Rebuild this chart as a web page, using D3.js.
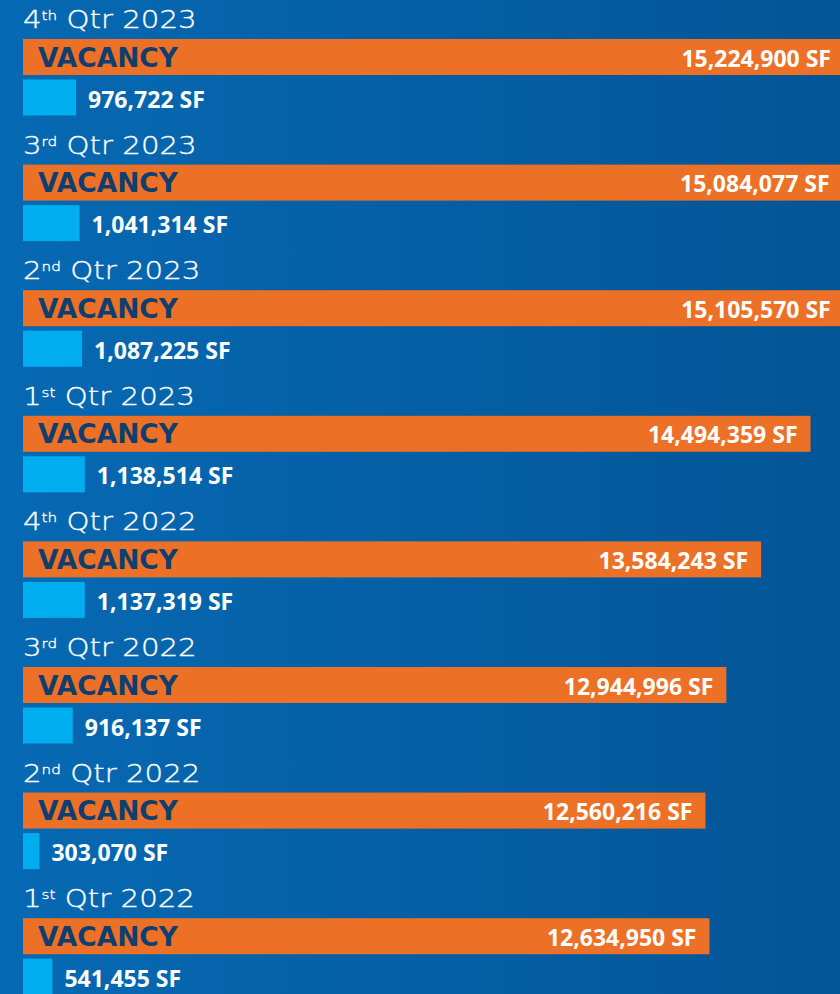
<!DOCTYPE html>
<html>
<head>
<meta charset="utf-8">
<script src="https://cdn.jsdelivr.net/npm/d3@7"></script>
<style>
  html, body { margin: 0; padding: 0; background: #0660aa; }
  svg { display: block; }
</style>
</head>
<body>
<svg id="chart" width="840" height="994"></svg>
<script>
// ---- data ----
const quarterNum   = ["4", "3", "2", "1", "4", "3", "2", "1"];
const quarterSuf   = ["th", "rd", "nd", "st", "th", "rd", "nd", "st"];
const quarterYear  = ["2023", "2023", "2023", "2023", "2022", "2022", "2022", "2022"];
const vacancySF    = [15224900, 15084077, 15105570, 14494359, 13584243, 12944996, 12560216, 12634950];
const subleaseSF   = [976722, 1041314, 1087225, 1138514, 1137319, 916137, 303070, 541455];
const vacancyLabel = "VACANCY";

// ---- layout ----
const W = 840, H = 994;
const svg = d3.select("#chart");

const defs = svg.append("defs");
const grad = defs.append("linearGradient").attr("id", "bg")
  .attr("x1", "0").attr("y1", "0").attr("x2", "1").attr("y2", "0");
grad.append("stop").attr("offset", "0%").attr("stop-color", "#0669b3");
grad.append("stop").attr("offset", "100%").attr("stop-color", "#045596");
svg.append("rect").attr("width", W).attr("height", H).attr("fill", "url(#bg)");

const rows = d3.range(vacancySF.length);
const y = d3.scaleBand().domain(rows).range([39, 39 + 125.6 * rows.length]).paddingInner(0).paddingOuter(0);
const x = d3.scaleLinear().domain([0, 15000000]).range([23, 838]);

const barH = 36;
const fmt = d3.format(",");
const numScale = 1.0;

const g = svg.selectAll("g.row").data(rows).join("g").attr("class", "row")
  .attr("transform", i => `translate(0,${y(i)})`);

// Title
const title = g.append("text")
  .attr("transform", "translate(23,-11) scale(1.17,1)")
  .attr("fill", "#ffffff")
  .attr("stroke", "#ffffff")
  .attr("stroke-width", 0.35)
  .style("font-family", "'DejaVu Sans', sans-serif")
  .style("font-weight", 200)
  .style("font-size", "25px");
title.append("tspan").text(i => quarterNum[i]);
title.append("tspan").attr("dy", -8).style("font-size", "13px").text(i => quarterSuf[i]);
title.append("tspan").attr("dy", 8).text(i => "\u00a0Qtr " + quarterYear[i]);

// Vacancy bar
g.append("rect")
  .attr("x", x(0)).attr("y", 0)
  .attr("width", i => x(vacancySF[i]) - x(0))
  .attr("height", barH)
  .attr("fill", "#ec7127");

g.append("text")
  .attr("x", 38).attr("y", barH / 2 + 9.5)
  .attr("fill", "#0f3e6f")
  .style("font-family", "'DejaVu Sans', sans-serif")
  .style("font-weight", "bold")
  .style("font-size", "26.5px")
  .text(vacancyLabel);

g.append("text")
  .attr("transform", i => `translate(${Math.min(x(vacancySF[i]), 844) - 13},${barH / 2 + 9.5}) scale(${numScale},1)`)
  .attr("text-anchor", "end")
  .attr("fill", "#ffffff")
  .style("font-family", "'Open Sans', sans-serif")
  .style("font-weight", "bold")
  .style("font-size", "23px")
  .text(i => fmt(vacancySF[i]) + " SF");

// Sublease bar
g.append("rect")
  .attr("x", x(0)).attr("y", 40.5)
  .attr("width", i => x(subleaseSF[i]) - x(0))
  .attr("height", barH)
  .attr("fill", "#00aeef");

g.append("text")
  .attr("transform", i => `translate(${x(subleaseSF[i]) + 12},${40.5 + barH / 2 + 10}) scale(${numScale},1)`)
  .attr("fill", "#ffffff")
  .style("font-family", "'Open Sans', sans-serif")
  .style("font-weight", "bold")
  .style("font-size", "23px")
  .text(i => fmt(subleaseSF[i]) + " SF");
</script>
</body>
</html>
